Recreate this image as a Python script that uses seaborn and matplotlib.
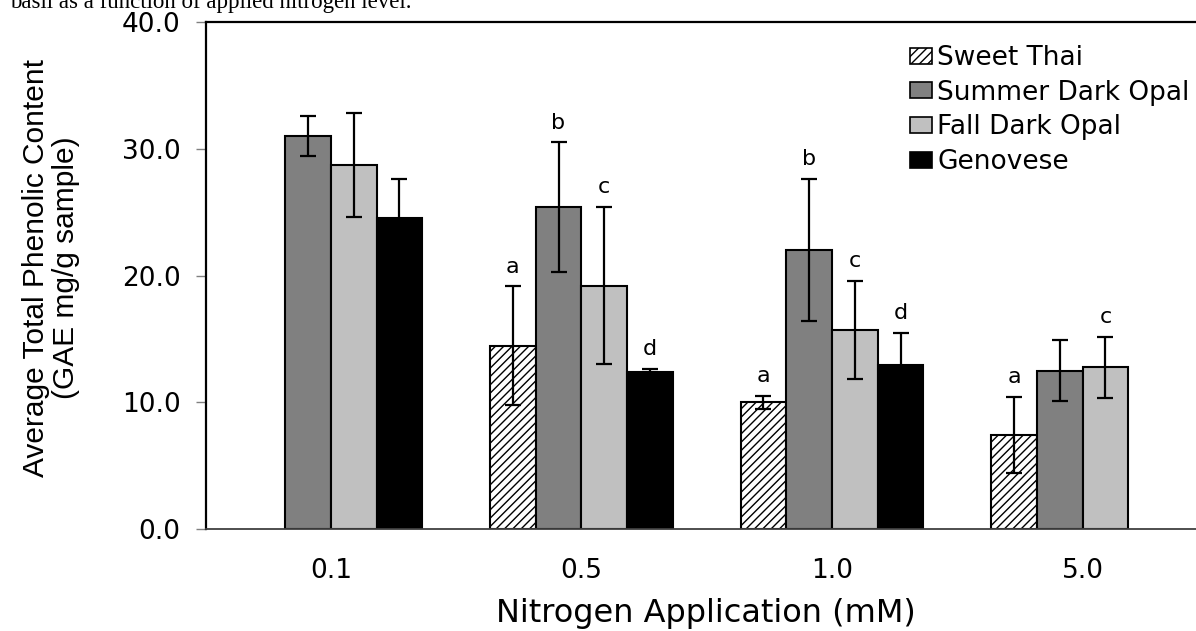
import numpy as np
import pandas as pd
import matplotlib
matplotlib.use("Agg")
import matplotlib.pyplot as plt
import seaborn as sns
from matplotlib import font_manager
from matplotlib.patches import Patch
from matplotlib.container import BarContainer

# ---- data ----
nitrogen = ["0.1", "0.5", "1.0", "5.0"]
varieties = ["Sweet Thai", "Summer Dark Opal", "Fall Dark Opal", "Genovese"]

sweet_thai = [np.nan, 14.45, 10.0, 7.45]
summer_dark_opal = [31.0, 25.4, 22.0, 12.5]
fall_dark_opal = [28.7, 19.2, 15.7, 12.75]
genovese = [24.5, 12.4, 12.9, np.nan]

sweet_thai_err = [np.nan, 4.7, 0.5, 3.0]
summer_dark_opal_err = [1.6, 5.1, 5.6, 2.4]
fall_dark_opal_err = [4.1, 6.2, 3.85, 2.4]
genovese_err = [3.1, 0.25, 2.6, np.nan]

sweet_thai_sig = ["", "a", "a", "a"]
summer_dark_opal_sig = ["", "b", "b", ""]
fall_dark_opal_sig = ["", "c", "c", "c"]
genovese_sig = ["", "d", "d", ""]

y_ticks = [0, 10, 20, 30, 40]

colors = {"Sweet Thai": "#ffffff", "Summer Dark Opal": "#808080",
          "Fall Dark Opal": "#c0c0c0", "Genovese": "#000000"}

rows = []
for name, vals, errs, sigs in zip(
        varieties,
        [sweet_thai, summer_dark_opal, fall_dark_opal, genovese],
        [sweet_thai_err, summer_dark_opal_err, fall_dark_opal_err, genovese_err],
        [sweet_thai_sig, summer_dark_opal_sig, fall_dark_opal_sig, genovese_sig]):
    for n, v, e, s in zip(nitrogen, vals, errs, sigs):
        rows.append({"nitrogen": n, "variety": name, "tpc": v, "err": e, "sig": s})
df = pd.DataFrame(rows).dropna(subset=["tpc"])

# ---- style ----
sns.set_style("white")
names = {f.name for f in font_manager.fontManager.ttflist}
narrow = "Liberation Sans Narrow" in names
plt.rcParams["font.family"] = ["DejaVu Sans"]
plt.rcParams["hatch.linewidth"] = 1.0
for key in ["text.color", "axes.labelcolor", "xtick.labelcolor", "ytick.labelcolor"]:
    plt.rcParams[key] = "black"

W, H = 1196, 631
fig = plt.figure(figsize=(W / 100, H / 100), dpi=100)
left, right, top, bottom = 205.5, 205.5 + 4 * 250.6, 22, 529
ax = fig.add_axes([left / W, 1 - bottom / H, (right - left) / W, (bottom - top) / H])

sns.barplot(data=df, x="nitrogen", y="tpc", hue="variety",
            order=nitrogen, hue_order=varieties, palette=colors,
            width=0.73, errorbar=None, edgecolor="black", linewidth=1.5,
            saturation=1, legend=False, ax=ax)

lookup = df.set_index(["nitrogen", "variety"])
color_to_name = {matplotlib.colors.to_hex(c): k for k, c in colors.items()}
bar_conts = [c for c in ax.containers if isinstance(c, BarContainer)]
for cont in bar_conts:
    for bar in cont.patches:
        name = color_to_name[matplotlib.colors.to_hex(bar.get_facecolor())]
        cx = bar.get_x() + bar.get_width() / 2
        cat = nitrogen[int(round(cx))]
        row = lookup.loc[(cat, name)]
        if name == "Sweet Thai":
            bar.set_hatch("////")
        ax.errorbar(cx, row["tpc"], yerr=row["err"], fmt="none", ecolor="black",
                    elinewidth=1.6, capsize=5.5, capthick=1.6, zorder=5)
        if row["sig"]:
            ax.annotate(row["sig"], (cx, row["tpc"] + row["err"]),
                        xytext=(0, 7), textcoords="offset points",
                        ha="center", va="bottom", fontsize=16, color="black")

ax.set_xlim(-0.5, 3.5)
ax.set_ylim(0, 40)
ax.set_yticks(y_ticks)
ax.set_yticklabels([f"{t:.1f}" for t in y_ticks])
ax.tick_params(axis="y", direction="out", length=7, width=1, color="#808080",
               labelcolor="black", labelsize=19, pad=11, left=True)
ax.tick_params(axis="x", length=0, labelsize=19, labelcolor="black", pad=21)

for side in ["top", "left"]:
    ax.spines[side].set_color("black")
    ax.spines[side].set_linewidth(1.6)
ax.spines["bottom"].set_color("#404040")
ax.spines["bottom"].set_linewidth(1.3)
ax.spines["right"].set_visible(False)

ax.set_xlabel("Nitrogen Application (mM)", fontsize=23, color="black")
ax.xaxis.label.set_va("baseline")
ax.xaxis.set_label_coords(0.499, -(622 - bottom) / (bottom - top))

if narrow:
    ylab_font = dict(family=["Liberation Sans Narrow"], size=25.5)
else:
    ylab_font = dict(family=["Liberation Sans"], size=21.5)
ax.set_ylabel("Average Total Phenolic Content\n(GAE mg/g sample)",
              linespacing=1.1, color="black", **ylab_font)
ax.yaxis.label.set_va("center")
ax.yaxis.set_label_coords((51 - left) / (right - left), (bottom - 268) / (bottom - top))

handles = [Patch(facecolor=colors[v], edgecolor="black", linewidth=1.2,
                 hatch="////" if v == "Sweet Thai" else None) for v in varieties]
leg = ax.legend(handles, varieties, loc="upper left", bbox_to_anchor=(910 / W, 1 - 45 / H),
                bbox_transform=fig.transFigure, frameon=False, fontsize=19,
                handlelength=0.82, handleheight=0.55, handletextpad=0.22,
                labelspacing=0.33, borderpad=0, borderaxespad=0)
for t in leg.get_texts():
    t.set_color("black")

# caption line cut off at the top of the image, as in the source figure
fig.text(10 / W, 1 - 8 / H, "basil as a function of applied nitrogen level.",
         family=["Liberation Serif"], fontsize=16.5, va="baseline", ha="left",
         color="black")

fig.savefig("out.png", dpi=100)
